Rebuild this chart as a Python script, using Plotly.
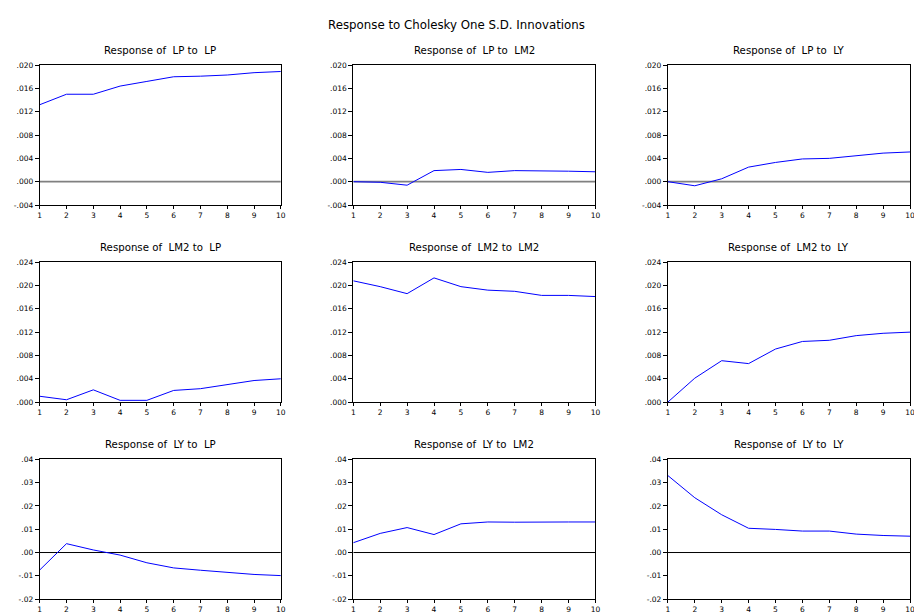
import plotly.graph_objects as go

periods = [1, 2, 3, 4, 5, 6, 7, 8, 9, 10]

lp_to_lp = [0.0132, 0.0150, 0.0150, 0.0164, 0.0172, 0.0180, 0.0181, 0.0183, 0.0187, 0.0189]
lp_to_lm2 = [0.0000, -0.0001, -0.0006, 0.0019, 0.0021, 0.0016, 0.0019, 0.0019, 0.0018, 0.0017]
lp_to_ly = [0.0000, -0.0007, 0.0005, 0.0025, 0.0033, 0.0039, 0.0040, 0.0045, 0.0049, 0.0051]

lm2_to_lp = [0.0010, 0.0004, 0.0021, 0.0003, 0.0003, 0.0020, 0.0023, 0.0030, 0.0037, 0.0040]
lm2_to_lm2 = [0.0208, 0.0198, 0.0186, 0.0213, 0.0198, 0.0192, 0.0190, 0.0183, 0.0183, 0.0181]
lm2_to_ly = [0.0000, 0.0041, 0.0071, 0.0066, 0.0091, 0.0104, 0.0106, 0.0114, 0.0118, 0.0120]

ly_to_lp = [-0.0075, 0.0038, 0.0011, -0.0011, -0.0044, -0.0066, -0.0076, -0.0086, -0.0094, -0.0099]
ly_to_lm2 = [0.0042, 0.0082, 0.0107, 0.0077, 0.0123, 0.0131, 0.0130, 0.0132, 0.0131, 0.0131]
ly_to_ly = [0.0330, 0.0235, 0.0162, 0.0104, 0.0099, 0.0092, 0.0092, 0.0079, 0.0073, 0.0070]

panel_titles = [
    "Response of  LP to  LP", "Response of  LP to  LM2", "Response of  LP to  LY",
    "Response of  LM2 to  LP", "Response of  LM2 to  LM2", "Response of  LM2 to  LY",
    "Response of  LY to  LP", "Response of  LY to  LM2", "Response of  LY to  LY",
]
series = [lp_to_lp, lp_to_lm2, lp_to_ly,
          lm2_to_lp, lm2_to_lm2, lm2_to_ly,
          ly_to_lp, ly_to_lm2, ly_to_ly]

row1_ticks = [-0.004, 0.000, 0.004, 0.008, 0.012, 0.016, 0.020]
row1_text = ["-.004", ".000", ".004", ".008", ".012", ".016", ".020"]
row2_ticks = [0.000, 0.004, 0.008, 0.012, 0.016, 0.020, 0.024]
row2_text = [".000", ".004", ".008", ".012", ".016", ".020", ".024"]
row3_ticks = [-0.02, -0.01, 0.00, 0.01, 0.02, 0.03, 0.04]
row3_text = ["-.02", "-.01", ".00", ".01", ".02", ".03", ".04"]

main_title = "Response to Cholesky One S.D. Innovations"

# figure is 2px wider than the window so the right column runs off the edge like the original
W, H = 916, 615
col_px = [(38, 281), (354, 598), (671, 915)]
row_px = [(62, 204), (262, 404), (462, 604)]
title_y = [47, 247, 447]
row_ticks = [(row1_ticks, row1_text), (row2_ticks, row2_text), (row3_ticks, row3_text)]
zero_style = [("#808080", 1.8), None, ("#000000", 1)]

FONT = "DejaVu Sans, Verdana, sans-serif"

fig = go.Figure()
layout = dict(
    width=W, height=H,
    margin=dict(l=0, r=0, t=0, b=0),
    paper_bgcolor="white", plot_bgcolor="white",
    showlegend=False,
    font=dict(family=FONT, color="black", size=7.5),
)
annotations = [dict(text=main_title, x=458 / W, y=1 - 21 / H, xref="paper", yref="paper",
                    showarrow=False, font=dict(size=11.8, family=FONT), xanchor="center", yanchor="middle")]
shapes = []

for i in range(9):
    r, c = divmod(i, 3)
    n = i + 1
    xa = "xaxis" if n == 1 else f"xaxis{n}"
    ya = "yaxis" if n == 1 else f"yaxis{n}"
    xr = "x" if n == 1 else f"x{n}"
    yr = "y" if n == 1 else f"y{n}"
    x0, x1 = col_px[c]
    y0, y1 = row_px[r]
    tv, tt = row_ticks[r]
    layout[xa] = dict(domain=[x0 / W, min(x1 / W, 1.0)], anchor=yr, range=[1, 10],
                      tickvals=periods, ticktext=[str(p) for p in periods],
                      ticks="outside", ticklen=3, tickwidth=1, tickcolor="black",
                      showline=True, linecolor="black", linewidth=1, mirror=True,
                      showgrid=False, zeroline=False, tickfont=dict(size=7.5), fixedrange=True)
    layout[ya] = dict(domain=[1 - y1 / H, 1 - y0 / H], anchor=xr, range=[tv[0], tv[-1]],
                      tickvals=tv, ticktext=tt,
                      ticks="outside", ticklen=4, tickwidth=1, tickcolor="black",
                      showline=True, linecolor="black", linewidth=1, mirror=True,
                      showgrid=False, zeroline=False, tickfont=dict(size=7.5), fixedrange=True)
    if zero_style[r]:
        col, wd = zero_style[r]
        shapes.append(dict(type="line", xref=xr, yref=yr, x0=1, x1=10, y0=0, y1=0,
                           line=dict(color=col, width=wd), layer="below"))
    fig.add_trace(go.Scatter(x=periods, y=series[i], mode="lines",
                             line=dict(color="#0000FF", width=1), xaxis=xr, yaxis=yr))
    annotations.append(dict(text=panel_titles[i], x=((x0 + x1) / 2) / W,
                            y=1 - title_y[r] / H, xref="paper", yref="paper", showarrow=False,
                            font=dict(size=10.2, family=FONT), xanchor="center", yanchor="middle"))

layout["annotations"] = annotations
layout["shapes"] = shapes
fig.update_layout(**layout)
fig.write_html("out.html", config={"displayModeBar": False},
               post_script="document.body.style.margin='0';document.body.style.overflow='hidden';")
